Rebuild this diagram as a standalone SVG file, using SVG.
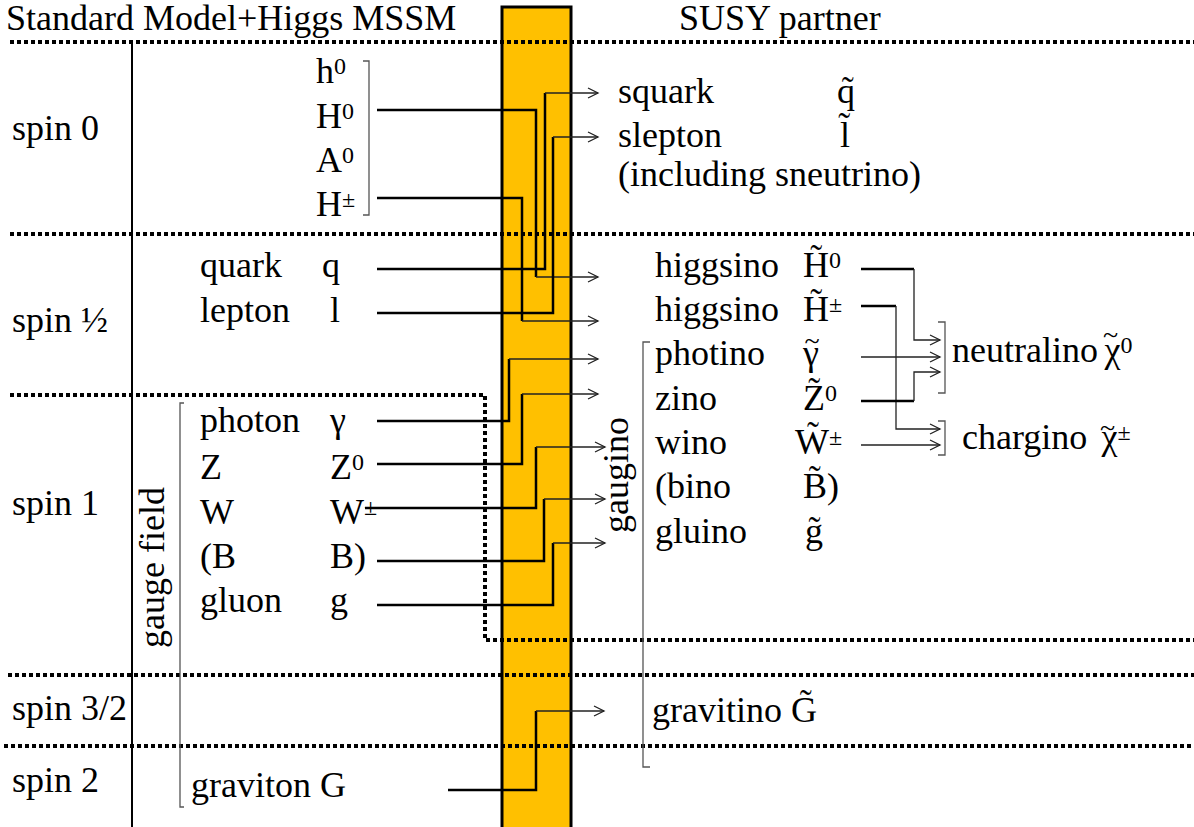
<svg xmlns="http://www.w3.org/2000/svg" width="1194" height="827" viewBox="0 0 1194 827" font-family="'Liberation Serif', 'DejaVu Serif', serif">
<style>
text { font-family: "Liberation Serif", "DejaVu Serif", serif; font-size: 36px; fill: #000; }
.sup { font-size: 24px; }
.tl { font-size: 28px; }
.dot { stroke: #000; stroke-width: 4; stroke-dasharray: 4 3; fill: none; }
.thick { stroke: #000; stroke-width: 2.5; fill: none; }
.thin { stroke: #222; stroke-width: 1.3; fill: none; marker-end: url(#arr); }
.brk { stroke: #555; stroke-width: 1.3; fill: none; }
</style>
<defs>
<marker id="arr" markerWidth="14" markerHeight="14" refX="11" refY="6" orient="auto" markerUnits="userSpaceOnUse">
<path d="M1,1 L11,6 L1,11" fill="none" stroke="#222" stroke-width="1.3"/>
</marker>
</defs>
<rect id="bar" x="502" y="7" width="69" height="830" fill="#FFC000" stroke="#000" stroke-width="3"/>
<line x1="132" y1="42" x2="132" y2="827" stroke="#000" stroke-width="2"/>
<g id="dividers">
<path class="dot" d="M10,42 H1194"/>
<path class="dot" d="M10,234 H1194"/>
<path class="dot" d="M10,395 H485 V640 H1194"/>
<path class="dot" d="M8,675 H1194"/>
<path class="dot" d="M4,746 H1194"/>
</g>
<g id="headers">
<text x="6" y="30">Standard Model+Higgs MSSM</text>
<text x="679" y="30">SUSY partner</text>
</g>
<g id="spins">
<text x="12" y="140">spin 0</text>
<text x="12" y="332">spin ½</text>
<text x="12" y="515">spin 1</text>
<text x="12" y="720">spin 3/2</text>
<text x="12" y="792">spin 2</text>
</g>
<g id="higgs">
<text x="316" y="83">h<tspan class="sup" dy="-9">0</tspan></text>
<text x="316" y="128">H<tspan class="sup" dy="-9">0</tspan></text>
<text x="316" y="172">A<tspan class="sup" dy="-9">0</tspan></text>
<text x="316" y="216">H<tspan class="sup" dy="-9">±</tspan></text>
<path class="brk" d="M363,61 H369 V215 H363"/>
</g>
<g id="sm-fermions">
<text x="200" y="277">quark</text><text x="322" y="277">q</text>
<text x="200" y="322">lepton</text><text x="330" y="322">l</text>
</g>
<g id="sm-gauge">
<text x="200" y="432">photon</text><text x="330" y="432">γ</text>
<text x="200" y="479">Z</text><text x="330" y="479">Z<tspan class="sup" dy="-9">0</tspan></text>
<text x="200" y="524">W</text><text x="330" y="524">W<tspan class="sup" dy="-9">±</tspan></text>
<text x="200" y="568">(B</text><text x="330" y="568">B)</text>
<text x="200" y="612">gluon</text><text x="330" y="612">g</text>
<path class="brk" d="M184,403 H180 V807 H184"/>
<text transform="translate(164,648) rotate(-90)">gauge field</text>
</g>
<g id="graviton">
<text x="191" y="797">graviton G</text>
</g>
<g id="sfermions">
<text x="618" y="103">squark</text><text x="837" y="103">q&#x303;</text>
<text x="618" y="147">slepton</text><text x="840" y="147">l&#x303;</text>
<text x="618" y="186">(including sneutrino)</text>
</g>
<g id="higgsinos">
<text x="655" y="277">higgsino</text><text x="803" y="277">H&#x303;<tspan class="sup" dy="-9">0</tspan></text>
<text x="655" y="321">higgsino</text><text x="803" y="321">H&#x303;<tspan class="sup" dy="-9">±</tspan></text>
</g>
<g id="gauginos">
<text x="655" y="365">photino</text><text x="803" y="365">γ<tspan class="tl" dx="-14.4" dy="-15.5">~</tspan></text>
<text x="655" y="410">zino</text><text x="803" y="410">Z&#x303;<tspan class="sup" dy="-9">0</tspan></text>
<text x="655" y="454">wino</text><text x="795" y="454">W&#x303;<tspan class="sup" dy="-9">±</tspan></text>
<text x="655" y="498">(bino</text><text x="803" y="498">B&#x303;)</text>
<text x="655" y="543">gluino</text><text x="805" y="543">g&#x303;</text>
<path class="brk" d="M650,342 H643 V767 H650"/>
<text transform="translate(628,533) rotate(-90)">gaugino</text>
</g>
<g id="gravitino">
<text x="652" y="722">gravitino G&#x303;</text>
</g>
<g id="neutralino">
<path class="brk" d="M938,322 H945 V393 H938"/>
<text x="952" y="362">neutralino</text><text x="1103" y="362">χ<tspan class="tl" dx="-17.4" dy="-18">~</tspan><tspan class="sup" dx="2.3" dy="9">0</tspan></text>
</g>
<g id="chargino">
<path class="brk" d="M938,421 H945 V455 H938"/>
<text x="962" y="449">chargino</text><text x="1100" y="449">χ<tspan class="tl" dx="-17.4" dy="-12">~</tspan><tspan class="sup" dx="2.3" dy="3">±</tspan></text>
</g>
<g id="connectors">
<path class="thick" d="M377,110 H536 V277"/><path class="thin" d="M536,277 H598"/>
<path class="thick" d="M377,198 H522 V321"/><path class="thin" d="M522,321 H598"/>
<path class="thick" d="M377,269 H545 V93"/><path class="thin" d="M545,93 H598"/>
<path class="thick" d="M377,313 H553 V137"/><path class="thin" d="M553,137 H598"/>
<path class="thick" d="M377,421 H509 V359"/><path class="thin" d="M509,359 H598"/>
<path class="thick" d="M377,464 H522 V394"/><path class="thin" d="M522,394 H598"/>
<path class="thick" d="M365,508 H536 V447"/><path class="thin" d="M536,447 H605"/>
<path class="thick" d="M377,561 H544 V499"/><path class="thin" d="M544,499 H605"/>
<path class="thick" d="M377,605 H553 V543"/><path class="thin" d="M553,543 H605"/>
<path class="thick" d="M448,790 H536 V711"/><path class="thin" d="M536,711 H604"/>
<path class="thick" d="M861,269 H914"/><path class="thin" d="M914,269 V340 H940"/>
<path class="thick" d="M861,306 H896"/><path class="thin" d="M896,306 V429 H940"/>
<path class="thin" d="M861,357 H940"/>
<path class="thick" d="M861,401 H914"/><path class="thin" d="M914,401 V372 H940"/>
<path class="thin" d="M861,445 H940"/>
</g>
</svg>
